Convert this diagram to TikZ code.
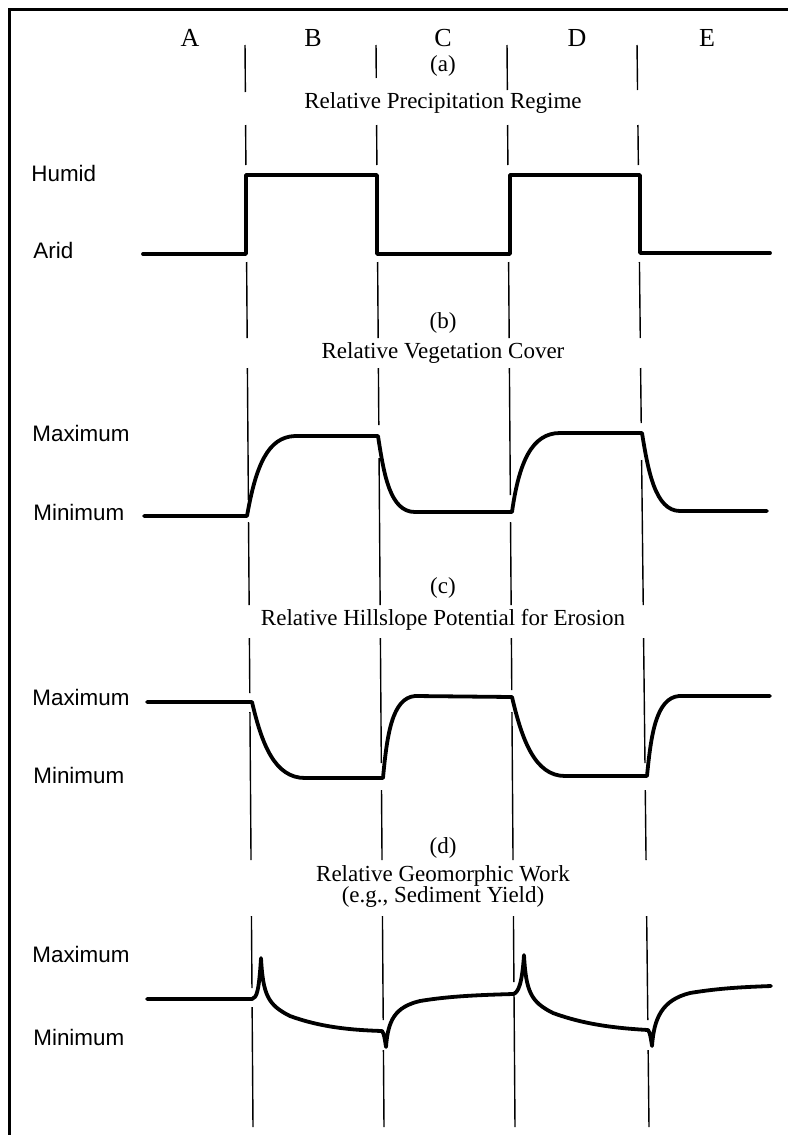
\documentclass[tikz,border=0pt]{standalone}
\usepackage{fontspec}
\setmainfont{Liberation Serif}
\newfontfamily\axisfont{Liberation Sans}
\usetikzlibrary{positioning}

\begin{document}
\begin{tikzpicture}[
    x=0.5pt, y=-0.5pt,
    curve/.style={line width=1.9pt, line join=round, line cap=round},
    guide/.style={line width=0.7pt},
    frame/.style={line width=1.5pt},
    col/.style={font=\fontsize{13}{15}\selectfont},
    ttl/.style={font=\fontsize{11.5}{13}\selectfont, inner sep=0pt},
    lvl/.style={font=\axisfont\fontsize{11.2}{13}\selectfont, anchor=west, inner sep=0pt}
  ]
  \useasboundingbox (0,0) rectangle (788,1135);
  \draw[frame] (9,1135) -- (9,9) -- (788,9);

  % column letters
  \foreach \l/\x in {A/190,B/313,C/443,D/577,E/707}
    \node[col] (col\l) at (\x,38) {\l};

  % broken period boundaries (slightly tilted, as scanned)
  \foreach \xt/\xb/\segs in {
      245/253/{45/92,125/165,262/338,368/500,522/605,638/693,712/860,916/988,1007/1127},
      376/384/{45/78,125/165,262/338,368/425,458/605,638/763,790/860,916/1020,1050/1127},
      507/515/{45/90,125/165,262/338,368/495,522/605,638/690,712/860,916/982,995/1127},
      637/649/{45/90,125/165,262/338,368/423,460/605,638/763,790/860,916/1020,1050/1127}} {
    \foreach \ya/\yb in \segs {
      \pgfmathsetmacro\xa{\xt+(\xb-\xt)*(\ya-42)/1085}
      \pgfmathsetmacro\xe{\xt+(\xb-\xt)*(\yb-42)/1085}
      \draw[guide] (\xa,\ya) -- (\xe,\yb);
    }
  }

  % (a) precipitation
  \node[ttl] (pa) at (443,66) {(a)};
  \node[ttl] (ta) at (443,103) {Relative Precipitation Regime};
  \node[lvl] (humid) at (31,173) {Humid};
  \node[lvl] (arid) at (33,250) {Arid};
  \draw[curve] (143,254) -- (246,254) -- (246,175) -- (377,175) -- (377,254)
    -- (510,254) -- (510,175) -- (640,175) -- (640,253) -- (770,253);

  % (b) vegetation
  \node[ttl] (pb) at (443,323) {(b)};
  \node[ttl] (tb) at (443,353) {Relative Vegetation Cover};
  \node[lvl] (bmax) at (32,433) {Maximum};
  \node[lvl] (bmin) at (33,512) {Minimum};
  \draw[curve] (144,516) -- (247,516) .. controls (256,465) and (268,437) .. (295,436)
    -- (378,436) .. controls (384,475) and (390,512) .. (415,512) -- (512,512)
    .. controls (519,462) and (532,433) .. (560,433) -- (642,433)
    .. controls (648,470) and (655,511) .. (680,511) -- (767,511);

  % (c) hillslope erosion potential
  \node[ttl] (pc) at (443,588) {(c)};
  \node[ttl] (tc) at (443,620) {Relative Hillslope Potential for Erosion};
  \node[lvl] (cmax) at (32,697) {Maximum};
  \node[lvl] (cmin) at (33,775) {Minimum};
  \draw[curve] (147,702) -- (252,702) .. controls (262,745) and (275,778) .. (305,778)
    -- (383,778) .. controls (387,735) and (392,698) .. (415,696) -- (512,697)
    .. controls (522,740) and (535,776) .. (565,776) -- (647,776)
    .. controls (651,735) and (656,698) .. (679,696) -- (770,696);

  % (d) geomorphic work
  \node[ttl] (pd) at (443,848) {(d)};
  \node[ttl] (td) at (443,876) {Relative Geomorphic Work};
  \node[ttl] (td2) at (443,897) {(e.g., Sediment Yield)};
  \node[lvl] (dmax) at (32,954) {Maximum};
  \node[lvl] (dmin) at (33,1037) {Minimum};
  \draw[curve] (147,999) -- (252,999) .. controls (257,998) and (259,990) .. (261,958)
    .. controls (263,995) and (268,1005) .. (290,1016)
    .. controls (320,1027) and (350,1030) .. (382,1031)
    .. controls (384,1033) and (385,1040) .. (386,1047)
    .. controls (388,1020) and (395,1007) .. (420,1001)
    .. controls (450,996) and (480,995) .. (513,994)
    .. controls (518,993) and (522,985) .. (524,955)
    .. controls (526,992) and (531,1002) .. (553,1013)
    .. controls (583,1024) and (613,1028) .. (648,1030)
    .. controls (650,1032) and (651,1039) .. (652,1046)
    .. controls (654,1018) and (662,1000) .. (690,993)
    .. controls (720,988) and (745,987) .. (771,986);
\end{tikzpicture}
\end{document}
